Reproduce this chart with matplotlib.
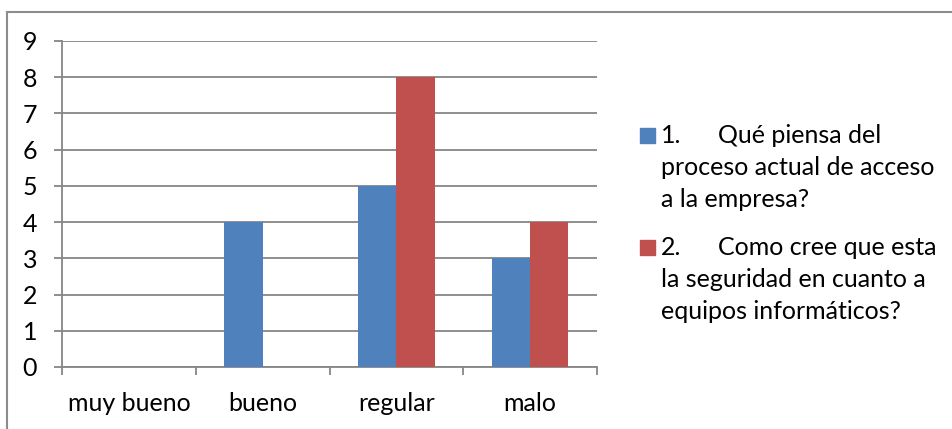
import matplotlib
matplotlib.use("Agg")
import matplotlib.pyplot as plt
from matplotlib.patches import Rectangle
from matplotlib.lines import Line2D
import numpy as np

categories = ["muy bueno", "bueno", "regular", "malo"]
serie_1 = [0, 4, 5, 3]
serie_2 = [0, 0, 8, 4]
series_names = [
    ["1.", "Qué piensa del", "proceso actual de acceso", "a la empresa?"],
    ["2.", "Como cree que esta", "la seguridad en cuanto a", "equipos informáticos?"],
]
y_ticks = list(range(0, 10))

W, H = 953, 429
BLUE = "#4F81BD"
RED = "#C0504D"
GRID = "#868686"
FONT = ["Lato", "DejaVu Sans"]
FS = 18

plt.rcParams["font.family"] = FONT

fig = plt.figure(figsize=(W / 100, H / 100), dpi=100)
fig.patch.set_facecolor("white")


def fx(px):
    return px / W


def fy(py):
    return 1 - py / H


ax = fig.add_axes([fx(62), fy(367), fx(597) - fx(62), fy(41) - fy(367)])

x = np.arange(len(categories))
bw = 1 / 3.5
ax.bar(x - bw / 2, serie_1, width=bw, color=BLUE, zorder=3)
ax.bar(x + bw / 2, serie_2, width=bw, color=RED, zorder=3)

ax.set_xlim(-0.5, len(categories) - 0.5)
ax.set_ylim(0, 9)
ax.set_yticks(y_ticks)
ax.set_yticklabels([str(v) for v in y_ticks], fontsize=FS)
ax.yaxis.grid(True, color=GRID, linewidth=1.3, zorder=0)
ax.set_axisbelow(True)

# category labels centered, tick marks on the boundaries
ax.set_xticks(x)
ax.set_xticklabels(categories, fontsize=FS)
ax.tick_params(axis="x", length=0, pad=18)
ax.set_xticks(np.arange(len(categories) + 1) - 0.5, minor=True)
ax.tick_params(axis="x", which="minor", length=6, color=GRID, width=1.3)
ax.tick_params(axis="y", length=6, color=GRID, width=1.3, pad=12)

for s in ["top", "right"]:
    ax.spines[s].set_visible(False)
for s in ["left", "bottom"]:
    ax.spines[s].set_color(GRID)
    ax.spines[s].set_linewidth(1.3)

# legend entries drawn as swatch + wrapped lines (baselines in pixels)
colors = [BLUE, RED]
first_baseline = [143, 255]
line_gap = 32
for name, col, b0 in zip(series_names, colors, first_baseline):
    fig.patches.append(Rectangle((fx(640), fy(b0)), fx(15), fy(0) - fy(15),
                                 transform=fig.transFigure, color=col))
    fig.text(fx(661), fy(b0), name[0], fontsize=FS, va="baseline", ha="left")
    fig.text(fx(718), fy(b0), name[1], fontsize=FS, va="baseline", ha="left")
    for i, line in enumerate(name[2:], start=1):
        fig.text(fx(661), fy(b0 + i * line_gap), line, fontsize=FS,
                 va="baseline", ha="left")

# chart frame (left and top edges)
fig.add_artist(Line2D([fx(7), fx(7)], [fy(12), 0], transform=fig.transFigure,
                      color="#8c8c8c", linewidth=1.5))
fig.add_artist(Line2D([fx(7), 1], [fy(12), fy(12)], transform=fig.transFigure,
                      color="#8c8c8c", linewidth=1.5))

fig.savefig("out.png", dpi=100, facecolor="white")
